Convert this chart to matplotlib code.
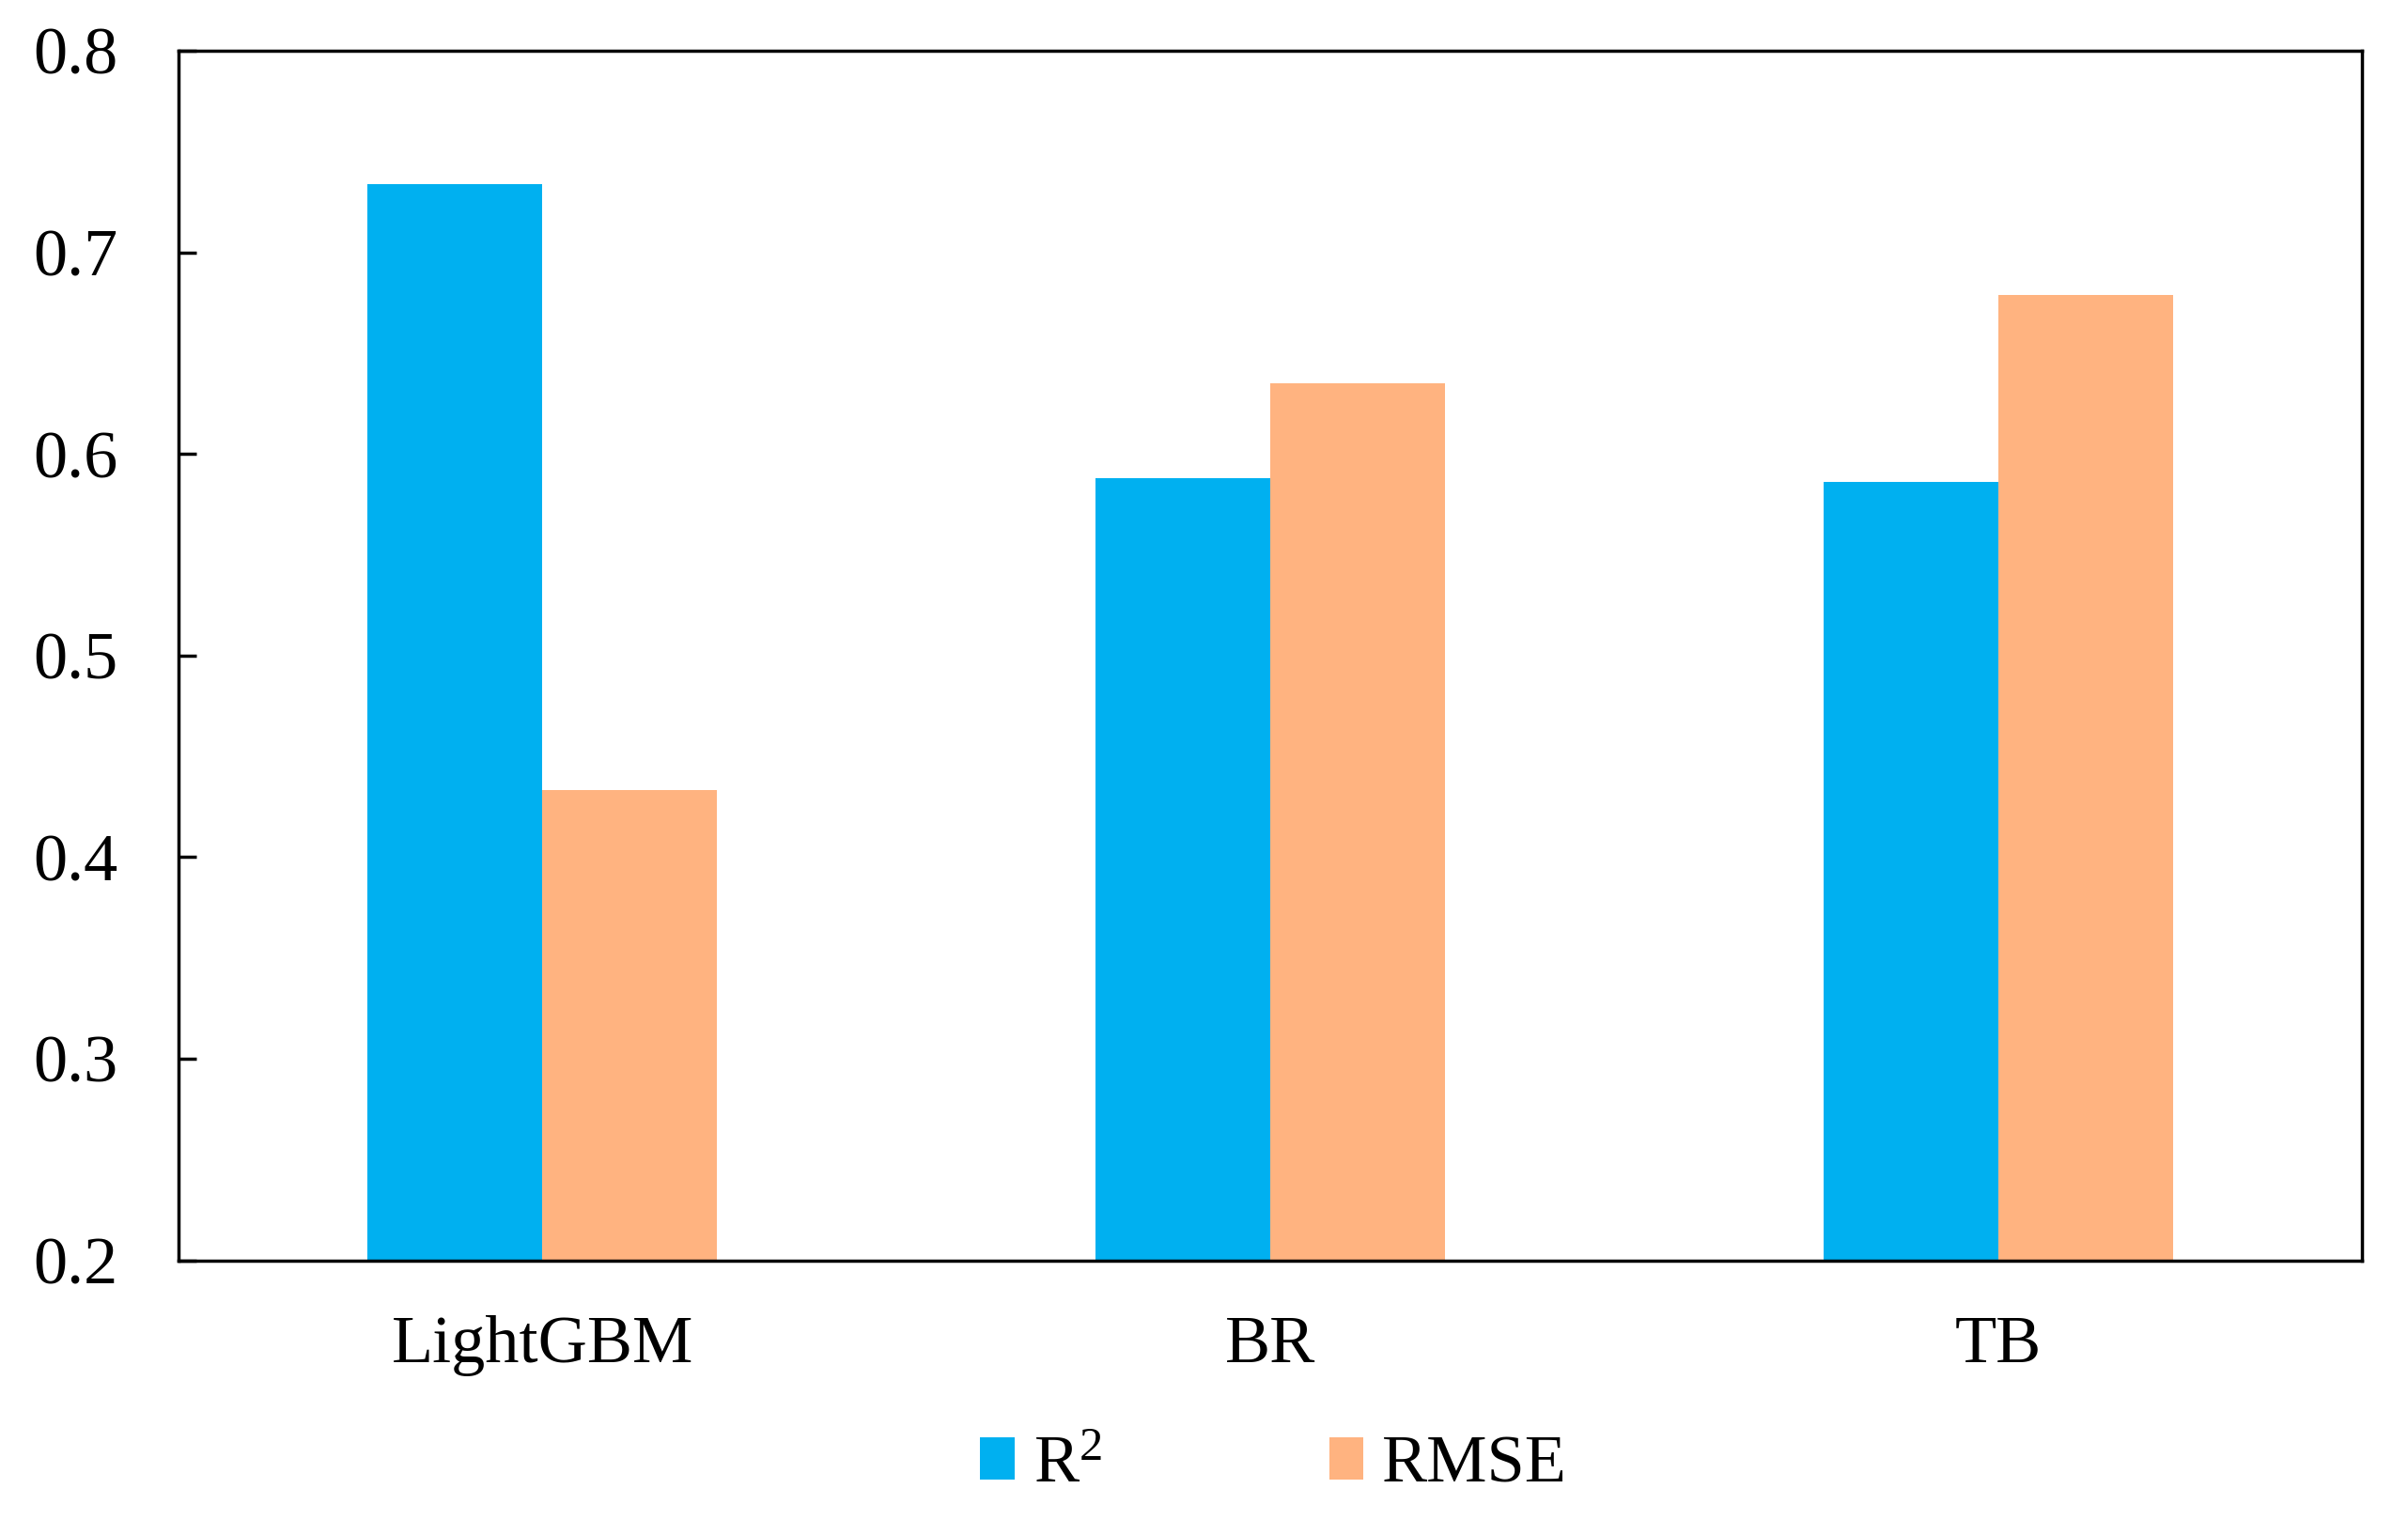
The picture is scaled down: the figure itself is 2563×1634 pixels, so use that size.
import matplotlib
matplotlib.use("Agg")
import matplotlib.pyplot as plt
import numpy as np

categories = ["LightGBM", "BR", "TB"]
r2_values = [0.734, 0.588, 0.586]
rmse_values = [0.433, 0.635, 0.679]
series_labels = ["R$^2$", "RMSE"]
y_ticks = [0.2, 0.3, 0.4, 0.5, 0.6, 0.7, 0.8]

plt.rcParams["font.family"] = ["Liberation Serif", "DejaVu Serif"]
plt.rcParams["mathtext.fontset"] = "custom"
plt.rcParams["mathtext.rm"] = "Liberation Serif"
plt.rcParams["mathtext.it"] = "Liberation Serif:italic"

fig = plt.figure(figsize=(25.63, 16.34), dpi=100)
ax = fig.add_axes([0.074, 0.179, 0.907, 0.788])

x = np.arange(len(categories))
w = 0.24
ax.bar(x - w / 2, r2_values, width=w, color="#00B0F0", label=series_labels[0])
ax.bar(x + w / 2, rmse_values, width=w, color="#FFB380", label=series_labels[1])

ax.set_xlim(-0.5, 2.5)
ax.set_ylim(0.2, 0.8)
ax.set_yticks(y_ticks)
ax.set_yticklabels([f"{v:.1f}" for v in y_ticks])
ax.set_xticks(x)
ax.set_xticklabels(categories)

for s in ax.spines.values():
    s.set_linewidth(2.5)
    s.set_color("black")

ax.tick_params(axis="y", direction="in", length=14, width=2.5, labelsize=52, pad=46)
ax.tick_params(axis="x", length=0, labelsize=52, pad=42)

fig.legend(loc="center", bbox_to_anchor=(0.529, 0.045), ncol=2, frameon=False,
           fontsize=52, handlelength=0.5, handleheight=0.6, handletextpad=0.28,
           columnspacing=3.35)

fig.savefig("out.png", dpi=100)
